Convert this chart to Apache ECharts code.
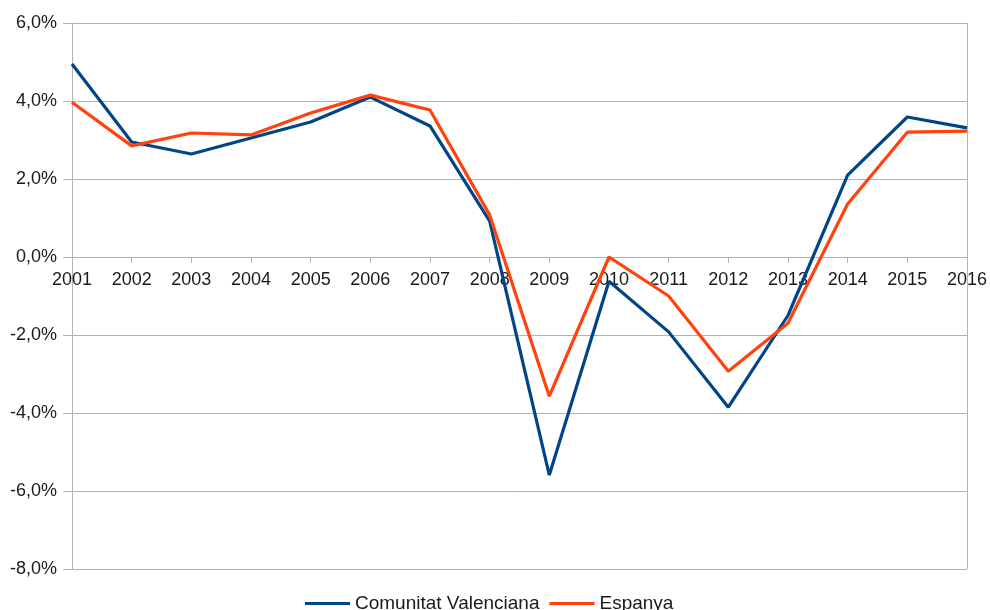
<!DOCTYPE html>
<html lang="ca">
<head>
    <meta charset="UTF-8">
    <title>PIB</title>
    <script src="https://cdn.jsdelivr.net/npm/echarts@6/dist/echarts.min.js"></script>
    <style>
        html, body { margin: 0; padding: 0; background: #fff; }
        #main { width: 990px; height: 610px; }
    </style>
</head>
<body>
<div id="main"></div>
<script>
    // anys i taxes de creixement (%)
    var years = ['2001', '2002', '2003', '2004', '2005', '2006', '2007', '2008',
        '2009', '2010', '2011', '2012', '2013', '2014', '2015', '2016']
    var valencia = [4.95, 2.95, 2.64, 3.05, 3.46, 4.1, 3.36, 0.92,
        -5.59, -0.62, -1.92, -3.85, -1.5, 2.1, 3.59, 3.31]
    var espanya = [3.97, 2.85, 3.18, 3.13, 3.69, 4.15, 3.77, 1.08,
        -3.57, 0.0, -1.0, -2.93, -1.7, 1.36, 3.2, 3.23]

    var font = 'Liberation Sans, Arial, sans-serif'
    var myChart = echarts.init(document.getElementById('main'))
    // l'eix x va sobre el 0: es desplaça cap amunt des de la vora inferior
    var gridTop = 23, gridBottom = 41
    var plotH = 610 - gridTop - gridBottom
    var zeroShift = plotH * 8 / 14

    var option = {
        animation: false,
        textStyle: { fontFamily: font },
        grid: { left: 72, right: 22, top: gridTop, bottom: gridBottom },
        legend: {
            top: 589,
            left: 300,
            icon: 'rect',
            itemWidth: 45,
            itemHeight: 3,
            itemGap: 10,
            textStyle: { fontSize: 19, color: '#1a1a1a', fontFamily: font },
            data: ['Comunitat Valenciana', 'Espanya']
        },
        xAxis: {
            type: 'category',
            data: years,
            boundaryGap: false,
            offset: -zeroShift,
            axisLine: { onZero: false, lineStyle: { color: '#b3b3b3', width: 1 } },
            axisTick: { show: true, length: 6, lineStyle: { color: '#b3b3b3' } },
            axisLabel: { color: '#1a1a1a', fontSize: 18, margin: 14, fontFamily: font },
            splitLine: {
                show: true,
                interval: function (index) { return index === years.length - 1 },
                lineStyle: { color: '#b3b3b3' }
            }
        },
        yAxis: {
            type: 'value',
            min: -8,
            max: 6,
            interval: 2,
            axisLine: { show: true, lineStyle: { color: '#b3b3b3' } },
            axisTick: { show: true, length: 9, lineStyle: { color: '#b3b3b3' } },
            axisLabel: {
                color: '#1a1a1a',
                fontSize: 18,
                margin: 15,
                fontFamily: font,
                formatter: function (v) { return v.toFixed(1).replace('.', ',') + '%' }
            },
            splitLine: { lineStyle: { color: '#b3b3b3' } }
        },
        series: [{
            name: 'Comunitat Valenciana',
            type: 'line',
            data: valencia,
            showSymbol: false,
            symbol: 'none',
            color: '#004586',
            lineStyle: { width: 3.2, color: '#004586' }
        }, {
            name: 'Espanya',
            type: 'line',
            data: espanya,
            showSymbol: false,
            symbol: 'none',
            color: '#ff420e',
            lineStyle: { width: 3.2, color: '#ff420e' }
        }]
    }
    myChart.setOption(option)
</script>
</body>
</html>
